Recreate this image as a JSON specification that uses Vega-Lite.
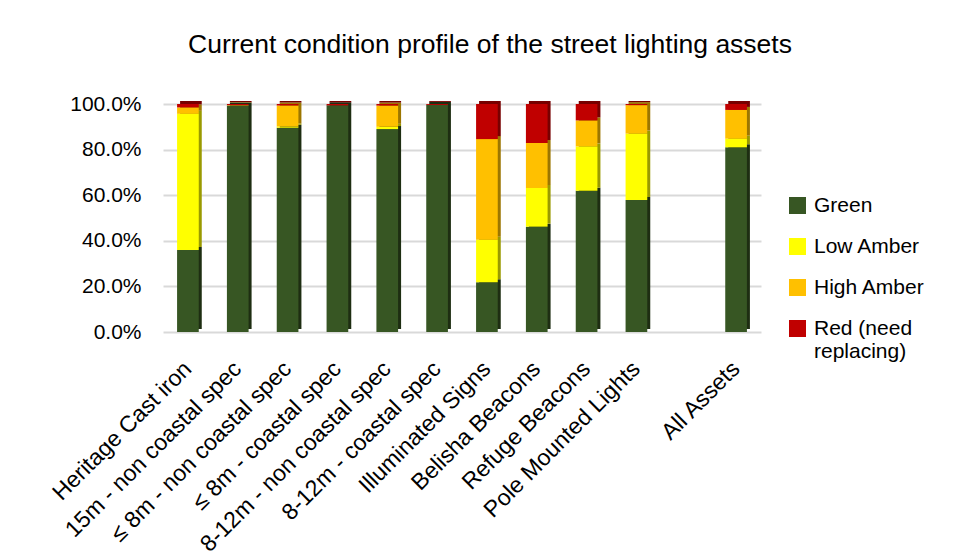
{
  "$schema": "https://vega.github.io/schema/vega-lite/v6.json",
  "width": 598,
  "height": 228,
  "autosize": {"type": "none"},
  "padding": {"left": 163, "top": 104, "right": 194, "bottom": 222},
  "background": "white",
  "title": {
    "text": "Current condition profile of the street lighting assets",
    "font": "Liberation Sans",
    "fontSize": 26.5,
    "fontWeight": "normal",
    "color": "black",
    "anchor": "middle",
    "dx": 28,
    "offset": 35
  },
  "data": {
    "values": [
      {"asset": "Heritage Cast iron", "condition": "Green", "rank": 1, "pct": 36.0},
      {"asset": "Heritage Cast iron", "condition": "Low Amber", "rank": 2, "pct": 59.7},
      {"asset": "Heritage Cast iron", "condition": "High Amber", "rank": 3, "pct": 2.8},
      {"asset": "Heritage Cast iron", "condition": "Red (need replacing)", "rank": 4, "pct": 1.5},
      {"asset": "15m - non coastal spec", "condition": "Green", "rank": 1, "pct": 99.3},
      {"asset": "15m - non coastal spec", "condition": "High Amber", "rank": 3, "pct": 0.2},
      {"asset": "15m - non coastal spec", "condition": "Red (need replacing)", "rank": 4, "pct": 0.5},
      {"asset": "≤ 8m - non coastal spec", "condition": "Green", "rank": 1, "pct": 89.6},
      {"asset": "≤ 8m - non coastal spec", "condition": "Low Amber", "rank": 2, "pct": 0.5},
      {"asset": "≤ 8m - non coastal spec", "condition": "High Amber", "rank": 3, "pct": 9.2},
      {"asset": "≤ 8m - non coastal spec", "condition": "Red (need replacing)", "rank": 4, "pct": 0.7},
      {"asset": "≤ 8m - coastal spec", "condition": "Green", "rank": 1, "pct": 99.4},
      {"asset": "≤ 8m - coastal spec", "condition": "Red (need replacing)", "rank": 4, "pct": 0.6},
      {"asset": "8-12m - non coastal spec", "condition": "Green", "rank": 1, "pct": 89.0},
      {"asset": "8-12m - non coastal spec", "condition": "Low Amber", "rank": 2, "pct": 1.0},
      {"asset": "8-12m - non coastal spec", "condition": "High Amber", "rank": 3, "pct": 9.3},
      {"asset": "8-12m - non coastal spec", "condition": "Red (need replacing)", "rank": 4, "pct": 0.7},
      {"asset": "8-12m - coastal spec", "condition": "Green", "rank": 1, "pct": 99.6},
      {"asset": "8-12m - coastal spec", "condition": "Red (need replacing)", "rank": 4, "pct": 0.4},
      {"asset": "Illuminated Signs", "condition": "Green", "rank": 1, "pct": 21.8},
      {"asset": "Illuminated Signs", "condition": "Low Amber", "rank": 2, "pct": 18.7},
      {"asset": "Illuminated Signs", "condition": "High Amber", "rank": 3, "pct": 44.1},
      {"asset": "Illuminated Signs", "condition": "Red (need replacing)", "rank": 4, "pct": 15.4},
      {"asset": "Belisha Beacons", "condition": "Green", "rank": 1, "pct": 46.2},
      {"asset": "Belisha Beacons", "condition": "Low Amber", "rank": 2, "pct": 17.0},
      {"asset": "Belisha Beacons", "condition": "High Amber", "rank": 3, "pct": 19.7},
      {"asset": "Belisha Beacons", "condition": "Red (need replacing)", "rank": 4, "pct": 17.1},
      {"asset": "Refuge Beacons", "condition": "Green", "rank": 1, "pct": 62.0},
      {"asset": "Refuge Beacons", "condition": "Low Amber", "rank": 2, "pct": 19.4},
      {"asset": "Refuge Beacons", "condition": "High Amber", "rank": 3, "pct": 11.4},
      {"asset": "Refuge Beacons", "condition": "Red (need replacing)", "rank": 4, "pct": 7.2},
      {"asset": "Pole Mounted Lights", "condition": "Green", "rank": 1, "pct": 57.9},
      {"asset": "Pole Mounted Lights", "condition": "Low Amber", "rank": 2, "pct": 29.1},
      {"asset": "Pole Mounted Lights", "condition": "High Amber", "rank": 3, "pct": 12.5},
      {"asset": "Pole Mounted Lights", "condition": "Red (need replacing)", "rank": 4, "pct": 0.5},
      {"asset": "All Assets", "condition": "Green", "rank": 1, "pct": 81.0},
      {"asset": "All Assets", "condition": "Low Amber", "rank": 2, "pct": 3.8},
      {"asset": "All Assets", "condition": "High Amber", "rank": 3, "pct": 12.6},
      {"asset": "All Assets", "condition": "Red (need replacing)", "rank": 4, "pct": 2.6}
    ]
  },
  "encoding": {
    "x": {
      "field": "asset",
      "type": "nominal",
      "sort": null,
      "scale": {
        "domain": ["Heritage Cast iron", "15m - non coastal spec", "≤ 8m - non coastal spec", "≤ 8m - coastal spec", "8-12m - non coastal spec", "8-12m - coastal spec", "Illuminated Signs", "Belisha Beacons", "Refuge Beacons", "Pole Mounted Lights", " ", "All Assets"],
        "paddingInner": 0.565,
        "paddingOuter": 0.2825
      },
      "axis": {
        "title": null,
        "labelAngle": -45,
        "labelAlign": "right",
        "labelBaseline": "middle",
        "labelFont": "Liberation Sans",
        "labelFontSize": 23,
        "labelColor": "black",
        "labelPadding": 33,
        "labelOffset": 0,
        "labelLimit": 400,
        "ticks": false,
        "domain": false,
        "grid": false
      }
    },
    "y": {
      "field": "pct",
      "type": "quantitative",
      "stack": "normalize",
      "scale": {"domain": [0, 1]},
      "axis": {
        "title": null,
        "values": [0, 0.2, 0.4, 0.6, 0.8, 1],
        "labelExpr": "format(datum.value, '.1%')",
        "labelFont": "Liberation Sans",
        "labelFontSize": 21,
        "labelColor": "black",
        "labelPadding": 22,
        "ticks": false,
        "domain": false,
        "grid": true,
        "gridColor": "#d9d9d9",
        "gridWidth": 2
      }
    },
    "order": {"field": "rank", "type": "quantitative", "sort": "ascending"}
  },
  "layer": [
    {
      "mark": {"type": "bar", "xOffset": 3, "x2Offset": 3, "yOffset": -3, "y2Offset": -3},
      "encoding": {
        "color": {
          "field": "condition",
          "type": "nominal",
          "scale": {
            "domain": ["Green", "Low Amber", "High Amber", "Red (need replacing)"],
            "range": ["#1e2e12", "#9a9a00", "#9c7600", "#780000"]
          },
          "legend": null
        }
      }
    },
    {
      "mark": {"type": "bar"},
      "encoding": {
        "color": {
          "field": "condition",
          "type": "nominal",
          "scale": {
            "domain": ["Green", "Low Amber", "High Amber", "Red (need replacing)"],
            "range": ["#375623", "#ffff00", "#ffc000", "#c00000"]
          },
          "legend": {
            "title": null,
            "orient": "none",
            "legendX": 624,
            "legendY": 91,
            "symbolType": "square",
            "symbolSize": 289,
            "symbolStrokeWidth": 0,
            "labelFont": "Liberation Sans",
            "labelFontSize": 21,
            "labelColor": "black",
            "labelOffset": 6,
            "rowPadding": 19,
            "labelExpr": "datum.label == 'Red (need replacing)' ? ['Red (need', 'replacing)'] : datum.label"
          }
        }
      }
    }
  ],
  "resolve": {"scale": {"color": "independent"}},
  "config": {
    "view": {"stroke": null},
    "font": "Liberation Sans"
  }
}
